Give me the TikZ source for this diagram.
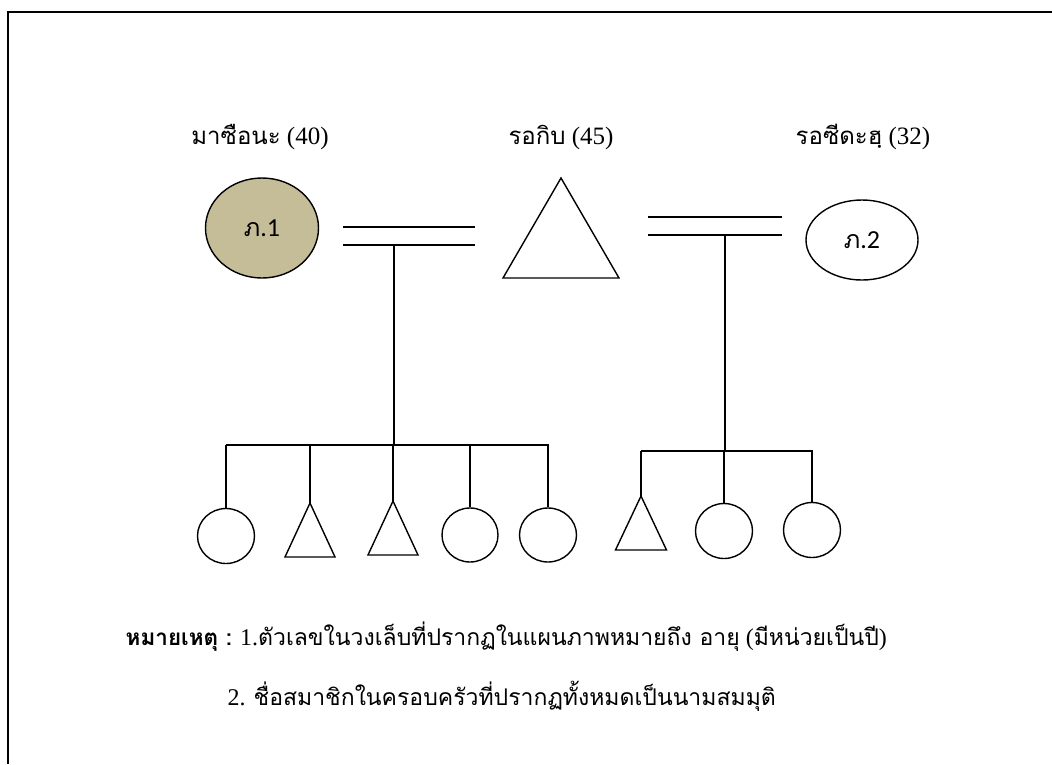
\documentclass[tikz,border=0pt]{standalone}
\usepackage{fontspec}
\usetikzlibrary{shapes.geometric}
\newfontfamily\thaifont[Script=Thai]{Loma}
\newfontfamily\tnr{Liberation Serif}
\newfontfamily\carl{Carlito}
\definecolor{tanfill}{HTML}{C4BD97}
\newcommand\thtxt[1]{{\thaifont\fontsize{24}{28}\selectfont #1}}
\newcommand\thnote[1]{{\thaifont\fontsize{23}{28}\selectfont #1}}
\newcommand\thbold[1]{{\thaifont\bfseries\fontsize{22.5}{28}\selectfont #1}}
\newcommand\thin[1]{{\thaifont\fontsize{25}{28}\selectfont #1}}
\begin{document}
\begin{tikzpicture}[x=1pt,y=-1pt,line width=1.4pt,
  female/.style={ellipse,draw,inner sep=0pt},
  lab/.style={anchor=base,font=\tnr\fontsize{25}{30}\selectfont,inner sep=0pt},
  note/.style={anchor=base west,font=\tnr\fontsize{24}{30}\selectfont,inner sep=0pt},
  inner/.style={font=\carl\fontsize{26}{30}\selectfont}]
\useasboundingbox (0,0) rectangle (1052,764);
% frame
\coordinate (fbl) at (8,764);
\coordinate (ftl) at (8,12);
\coordinate (ftr) at (1052,12);
\draw[line width=2pt] (fbl) -- (ftl) -- (ftr);

% labels
\node[lab] (l1) at (260,144) {\thtxt{มาซือนะ} (40)};
\node[lab] (l2) at (561,144) {\thtxt{รอกิบ} (45)};
\node[lab] (l3) at (863,144) {\thtxt{รอซีดะฮฺ} (32)};

% parents
\node[female,fill=tanfill,minimum width=113pt,minimum height=100pt,inner] (p1) at (262,228) {\thin{ภ}.1};
\coordinate (f) at (561,178);
\draw (f) -- ++(58,100) -- ++(-116,0) -- cycle;
\node[female,minimum width=112pt,minimum height=80pt,inner] (p2) at (862,240) {\thin{ภ}.2};

% marriage lines
\coordinate (ma1) at (343,227); \coordinate (ma2) at (475,227);
\coordinate (mb1) at (343,245); \coordinate (mb2) at (475,245);
\draw (ma1) -- (ma2);
\draw (mb1) -- (mb2);
\coordinate (mc1) at (648,217); \coordinate (mc2) at (782,217);
\coordinate (md1) at (648,235); \coordinate (md2) at (782,235);
\draw (mc1) -- (mc2);
\draw (md1) -- (md2);

% children of first marriage
\node[female,minimum width=57pt,minimum height=55pt] (c1) at (226,536) {};
\coordinate (c2) at (310,503);
\draw (c2) -- ++(25,54) -- ++(-50,0) -- cycle;
\coordinate (c3) at (393,501);
\draw (c3) -- ++(25,54) -- ++(-50,0) -- cycle;
\node[female,minimum width=56pt,minimum height=54pt] (c4) at (470,535) {};
\node[female,minimum width=57pt,minimum height=54pt] (c5) at (548,535) {};

\coordinate (sa) at (394,245);
\coordinate (sL) at (226,445);
\coordinate (sR) at (549,445);
\draw (sa) -- (sa |- sL);
\draw (sL) -- (sR);
\draw (c1.north) -- (c1.north |- sL);
\draw (c2) -- (c2 |- sL);
\draw (c3) -- (c3 |- sL);
\draw (c4.north) -- (c4.north |- sL);
\draw (c5.north) -- (c5.north |- sL);

% children of second marriage
\coordinate (d1) at (641,496);
\draw (d1) -- ++(25.5,54) -- ++(-51,0) -- cycle;
\node[female,minimum width=57pt,minimum height=55pt] (d2) at (724,531) {};
\node[female,minimum width=57pt,minimum height=55pt] (d3) at (812,530) {};

\coordinate (ta) at (725,235);
\coordinate (tL) at (641,451);
\coordinate (tR) at (813,451);
\draw (ta) -- (ta |- tL);
\draw (tL) -- (tR);
\draw (d1) -- (d1 |- tL);
\draw (d2.north) -- (d2.north |- tL);
\draw (d3.north) -- (d3.north |- tL);

% notes
\node[note] (n1) at (125,645) {\thbold{หมายเหตุ :} 1.\thnote{ตัวเลขในวงเล็บที่ปรากฏในแผนภาพหมายถึง อายุ} (\thnote{มีหน่วยเป็นปี})};
\node[note] (n2) at (227,705) {2. \thnote{ชื่อสมาชิกในครอบครัวที่ปรากฏทั้งหมดเป็นนามสมมุติ}};
\end{tikzpicture}
\end{document}
